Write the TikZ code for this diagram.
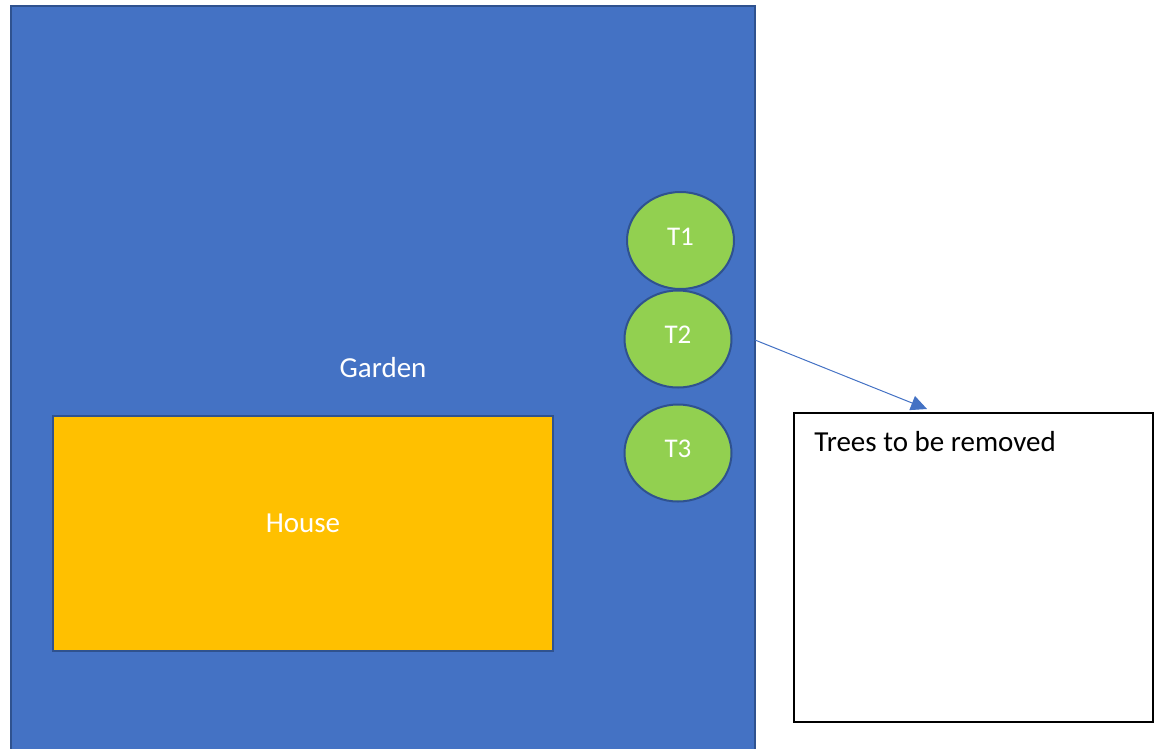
\documentclass[tikz,border=0pt]{standalone}
\usepackage{fontspec}
\setmainfont{Carlito}
\usepackage{tikz}
\usetikzlibrary{shapes.geometric,arrows.meta}
\usetikzlibrary{positioning}
\definecolor{gardenblue}{HTML}{4472C4}
\definecolor{edgeblue}{HTML}{2F528F}
\definecolor{houseyellow}{HTML}{FFC000}
\definecolor{treegreen}{HTML}{92D050}

\begin{document}
\begin{tikzpicture}[x=1pt, y=-1pt,
		tree/.style={draw=edgeblue, line width=2pt, fill=treegreen, ellipse, minimum width=107pt, minimum height=97pt, inner sep=0pt, text depth=8pt, text=white, font=\fontsize{27}{32}\selectfont},
		label text/.style={text=white, font=\fontsize{29}{35}\selectfont}]
			\useasboundingbox (0,0) rectangle (1156,748);
			\fill[gardenblue, draw=edgeblue, line width=2pt] (11,6) rectangle (755,760);
			\node[label text] (Garden) at (383,368) {Garden};
			\node[draw=edgeblue, line width=2pt, fill=houseyellow, minimum width=500pt, minimum height=235pt, text depth=20pt, label text] (House) at (303,533.5) {House};
			\node[tree] (T1) at (680.5,240.5) {T1};
			\node[tree] (T2) at (678,339) {T2};
			\node[tree] (T3) at (678,453) {T3};
			\node[draw=black, line width=1.5pt, fill=white, minimum width=359pt, minimum height=309pt] (Note) at (973.5,567.5) {};
			\node[anchor=north west, inner sep=0pt, font=\fontsize{29}{35}\selectfont] (NoteText) at ([xshift=21pt, yshift=-19pt]Note.north west) {Trees to be removed};
			\coordinate (ArrowStart) at (755,340);
			\coordinate (ArrowEnd) at (927,409);
			\draw[-{Triangle[length=16pt, width=15pt]}, gardenblue, line width=1pt] (ArrowStart) -- (ArrowEnd);
		\end{tikzpicture}
\end{document}
